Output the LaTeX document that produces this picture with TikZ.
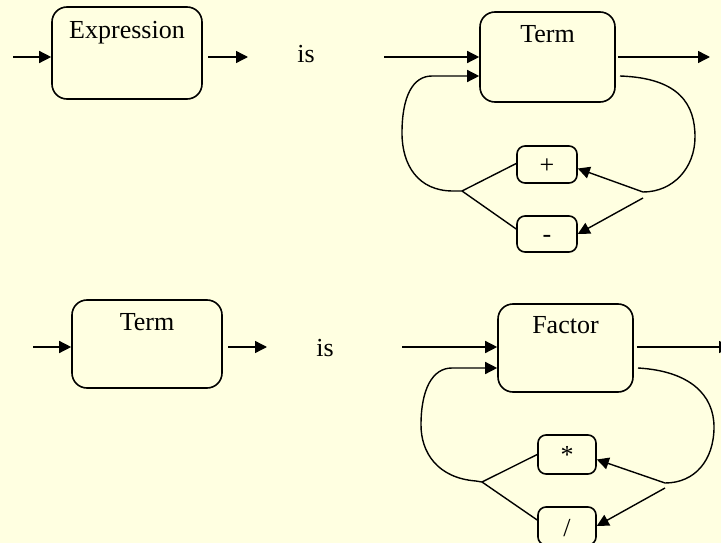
\documentclass[tikz,border=0pt]{standalone}
\usepackage{fontspec}
\setmainfont{Liberation Serif}
\usetikzlibrary{arrows.meta}
\definecolor{bg}{RGB}{255,255,225}
\begin{document}
\begin{tikzpicture}[x=1pt,y=-1pt,
  every node/.style={font=\fontsize{26}{30}\selectfont},
  bigbox/.style={draw, line width=1.6pt, rounded corners=15pt, inner sep=0pt},
  smallbox/.style={draw, line width=1.6pt, rounded corners=8pt, inner sep=0pt},
  conn/.style={line width=1.4pt},
  arr/.style={conn, -{Triangle[length=12pt,width=12pt]}},
]
\fill[bg] (0,0) rectangle (721,543);
\useasboundingbox (0,0) rectangle (721,543);

% ---------- Top row ----------
\node[bigbox, minimum width=150pt, minimum height=92pt,
      label={[anchor=base, yshift=-32pt]north:Expression}] (expr) at (127,53) {};
\coordinate (e0) at (13,57);
\coordinate (e1s) at (208,57);
\coordinate (e1) at (248,57);
\draw[arr] (e0) -- (e0 -| expr.west);
\draw[arr] (e1s) -- (e1);
\node[anchor=base] (is1) at (306,63) {is};

\node[bigbox, minimum width=135pt, minimum height=90pt,
      label={[anchor=base, yshift=-31pt]north:Term}] (term1) at (547.5,57) {};
\coordinate (t0) at (384,57);
\coordinate (t1) at (710,57);
\draw[arr] (t0) -- (t0 -| term1.west);
\draw[arr] ([xshift=2pt]t1 -| term1.east) -- (t1);

\node[smallbox, minimum width=60pt, minimum height=37pt,
      label={[anchor=center, yshift=-2pt]center:+}] (plus) at (547,164.5) {};
\node[smallbox, minimum width=60pt, minimum height=36pt,
      label={[anchor=center, yshift=-5pt]center:-}] (minus) at (547,234) {};

\coordinate (tl) at (462,191);
\coordinate (tl2) at (432,76);
\coordinate (tr1) at (620,76);
\coordinate (tr) at (643,192);

\draw[arr] (tl) -- (453,191) .. controls (418,191) and (402,165) .. (402,133)
   .. controls (402,96) and (413,76) .. (tl2) -- (tl2 -| term1.west);
\draw[conn] (tr1) .. controls (680,78) and (695,105) .. (695,137)
   .. controls (695,168) and (673,192) .. (tr);
\draw[arr] (tr) -- ([yshift=-4pt]plus.east);
\draw[arr] ([yshift=-6pt]tr) -- (minus.east);
\draw[conn] ([yshift=1pt]plus.west) -- (tl);
\draw[conn] ([yshift=5pt]minus.west) -- (tl);

% ---------- Bottom row ----------
\node[bigbox, minimum width=150pt, minimum height=88pt,
      label={[anchor=base, yshift=-31pt]north:Term}] (term2) at (147,344) {};
\coordinate (b0) at (33,347);
\coordinate (b1s) at (228,347);
\coordinate (b1) at (267,347);
\draw[arr] (b0) -- (b0 -| term2.west);
\draw[arr] (b1s) -- (b1);
\node[anchor=base] (is2) at (325,356) {is};

\node[bigbox, minimum width=135pt, minimum height=88pt,
      label={[anchor=base, yshift=-30pt]north:Factor}] (factor) at (565.5,348) {};
\coordinate (f0) at (402,347);
\coordinate (f1) at (731,347);
\draw[arr] (f0) -- (f0 -| factor.west);
\draw[arr] ([xshift=3pt]f1 -| factor.east) -- (f1);

\node[smallbox, minimum width=58pt, minimum height=39pt,
      label={[anchor=center, yshift=0pt]center:*}] (star) at (567,454.5) {};
\node[smallbox, minimum width=58pt, minimum height=38pt,
      label={[anchor=center, yshift=-2pt]center:/}] (slash) at (567,526) {};

\coordinate (fl) at (482,482);
\coordinate (fl2) at (452,368);
\coordinate (fr1) at (638,368);
\coordinate (fr) at (665,483);

\draw[arr] (fl) -- (476,481) .. controls (437,478) and (421,452) .. (421,425)
   .. controls (421,390) and (432,368) .. (fl2) -- (fl2 -| factor.west);
\draw[conn] (fr1) .. controls (690,371) and (714,395) .. (714,427)
   .. controls (714,460) and (695,483) .. (fr);
\draw[arr] (fr) -- ([yshift=-5pt]star.east);
\draw[arr] ([yshift=-5pt]fr) -- (slash.east);
\draw[conn] (star.west) -- (fl);
\draw[conn] ([yshift=6pt]slash.west) -- (fl);
\end{tikzpicture}
\end{document}
